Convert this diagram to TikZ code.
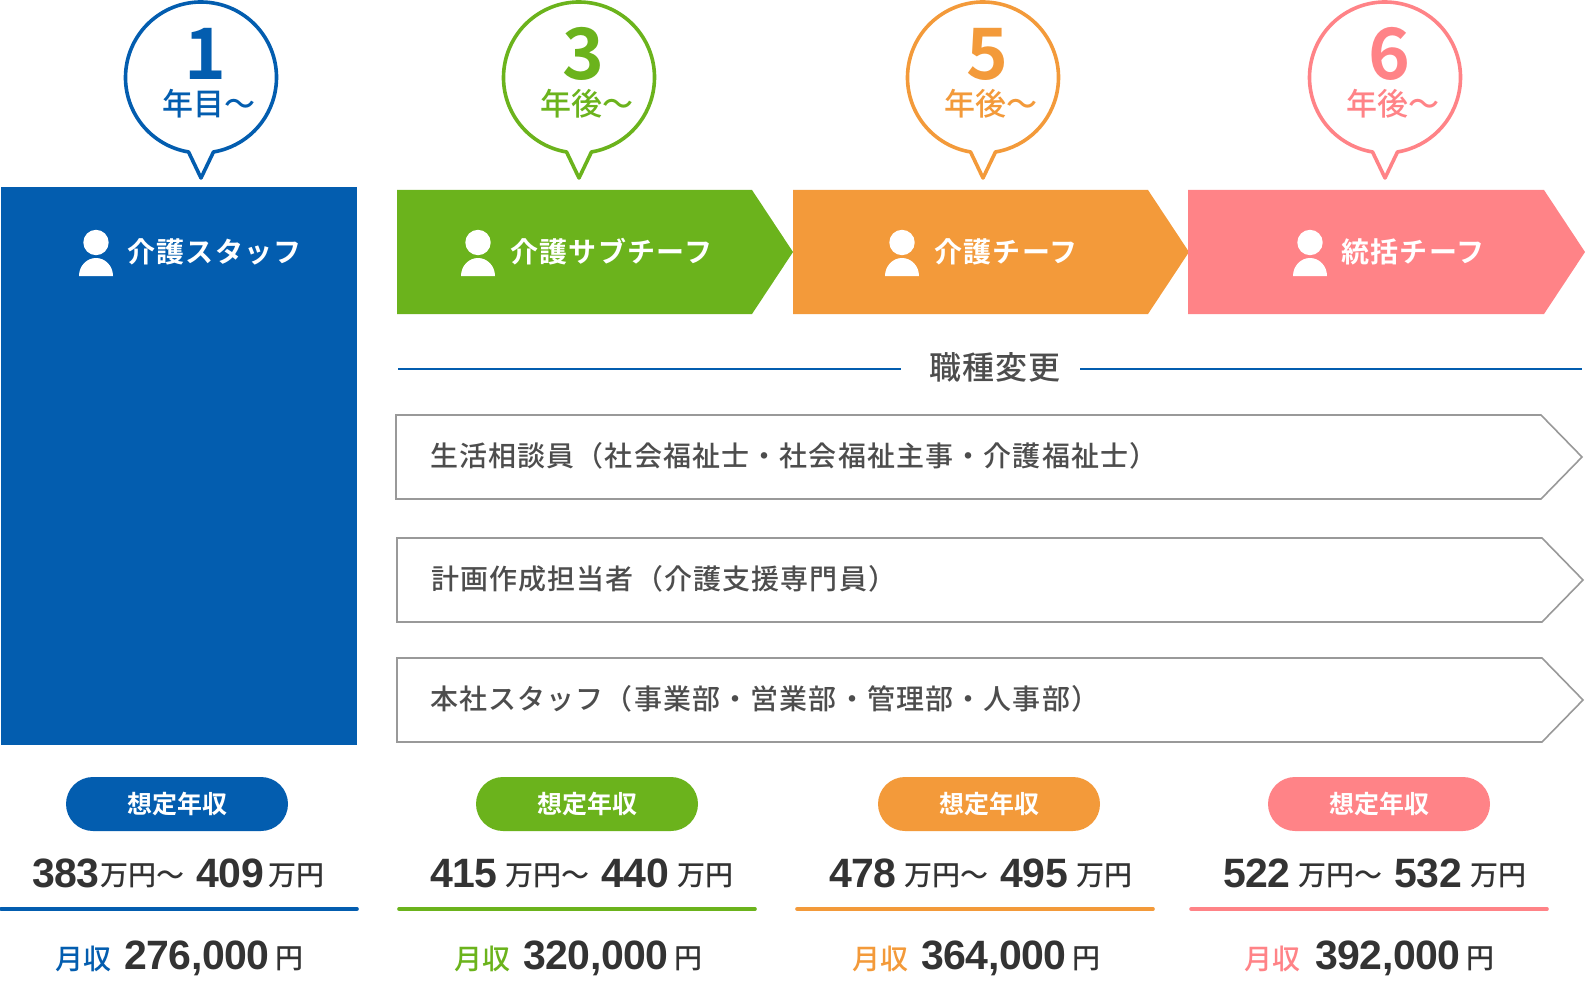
\documentclass[tikz,border=0pt]{standalone}
\usepackage{fontspec}
\setmainfont{Liberation Sans}
\newfontfamily\jpb{Noto Sans CJK JP Bold}
\newfontfamily\jpm{Noto Sans CJK JP Medium}[LetterSpace=4.1]
\newfontfamily\jpn{Noto Sans CJK JP Bold}[LetterSpace=4.8]
\newfontfamily\jpw{Noto Sans CJK JP Medium}
\definecolor{cblue}{HTML}{035DAF}
\definecolor{cgreen}{HTML}{6BB31C}
\definecolor{corange}{HTML}{F39A3A}
\definecolor{cpink}{HTML}{FF8387}
\definecolor{cink}{HTML}{333333}
\definecolor{csub}{HTML}{4D4D4D}
\definecolor{cgrey}{HTML}{999999}
\newcommand\fsz[1]{\fontsize{#1}{#1}\selectfont}
\newcommand\digs[1]{{\bfseries\fsz{41}\addfontfeature{LetterSpace=-1}#1}}
\newcommand\unit[1]{\raisebox{1.5pt}{\jpw\fsz{28}#1}}
\tikzset{
  lab/.style={inner sep=0,outer sep=0,anchor=base west},
  labc/.style={inner sep=0,outer sep=0,anchor=base},
  sublabel/.style={lab,text=csub,font=\jpm\fsz{28}},
  rolelabel/.style={lab,text=white,font=\jpn\fsz{28}},
  chevron/.style={draw=cgrey,line width=1.6pt,fill=white,line join=miter},
  pillbox/.style={inner sep=0,outer sep=0,minimum width=222pt,minimum height=54pt,rounded corners=27pt,text=white,font=\jpb\fsz{25}},
  barline/.style={line width=3.6pt,line cap=round},
}
\newcommand\bubblemark[6]{% id cx colour numx yearx num
  \draw[#3,line width=3.6pt,fill=white,line join=round]
    ([shift={(99.5:75.5)}]#2,77.5) arc[start angle=99.5,end angle=440.5,radius=75.5]
    -- (#2,178) -- cycle;
  \node[labc,text=#3,font=\jpb\fsz{71}] (num#1) at (#4,79.5) {#6};
  \node[labc,text=#3,font=\jpw\fsz{31}] (year#1) at (#5,116) {\ifnum#6=1 年目～\else 年後～\fi};
}
\newcommand\personmark[2]{% cx colour
  \fill[#2] (#1,242.5) circle[radius=12.7];
  \fill[#2] (#1-17,276) arc[start angle=180,end angle=360,x radius=17,y radius=18] -- cycle;
}
\newcommand\salary[9]{% id colour x1 text mon gap pillx monx barx
  \node[pillbox,fill=#2] (pill#1) at (#7,804) {想定年収};
  \node[lab,text=cink] (sal#1) at (#3,887) {#4};
  \draw[barline,#2] (#9+1,909) -- (#9+357,909);
  \node[lab,text=cink] (mon#1) at (#8,969.5) {{\jpw\fsz{28}\textcolor{#2}{月\kern1pt 収}}\hspace{#6pt}\digs{#5}\hspace{6pt}\unit{円}};
}
\begin{document}
\begin{tikzpicture}[x=1pt,y=-1pt]
\useasboundingbox (0,0) rectangle (1585,987);
% bubbles
\bubblemark{a}{201}{cblue}{205}{208.5}{1}
\bubblemark{b}{579}{cgreen}{583}{586.5}{3}
\bubblemark{c}{983}{corange}{987}{991}{5}
\bubblemark{d}{1385}{cpink}{1389}{1392.5}{6}
% column and arrows
\fill[cblue] (1,187) rectangle (357,745);
\fill[cgreen] (397,190) -- (752,190) -- (793,252) -- (752,314) -- (397,314) -- cycle;
\fill[corange] (793,190) -- (1148,190) -- (1189,252) -- (1148,314) -- (793,314) -- cycle;
\fill[cpink] (1188,190) -- (1544,190) -- (1585,252) -- (1544,314) -- (1188,314) -- cycle;
\personmark{96}{white}
\personmark{478}{white}
\personmark{902}{white}
\personmark{1310}{white}
\node[rolelabel] (ra) at (127,262) {介護スタッフ};
\node[rolelabel] (rb) at (510,262) {介護サブチーフ};
\node[rolelabel] (rc) at (934,262) {介護チーフ};
\node[rolelabel] (rd) at (1341,262) {統括チーフ};
% section rule
\node[labc,text=csub,font=\jpw\fsz{32}\addfontfeature{LetterSpace=3}] (sect) at (995,379) {職種変更};
\coordinate (la) at (398,369); \coordinate (lb) at (901,369);
\coordinate (lc) at (1080,369); \coordinate (ld) at (1582,369);
\draw[cblue,line width=2pt] (la) -- (lb);
\draw[cblue,line width=2pt] (lc) -- (ld);
% outlined arrows
\draw[chevron] (396,415) -- (1541,415) -- (1582,457) -- (1541,499) -- (396,499) -- cycle;
\draw[chevron] (397,538) -- (1542,538) -- (1583,580) -- (1542,622) -- (397,622) -- cycle;
\draw[chevron] (397,658) -- (1542,658) -- (1583,700) -- (1542,742) -- (397,742) -- cycle;
\node[sublabel] (sa) at (430,466) {生活相談員（社会福祉士・社会福祉主事・介護福祉士）};
\node[sublabel] (sb) at (431,589) {計画作成担当者（介護支援専門員）};
\node[sublabel] (sc) at (430,709) {本社スタッフ（事業部・営業部・管理部・人事部）};
% salaries
\salary{a}{cblue}{32}{\digs{383}\hspace{1pt}\unit{万円～}\hspace{12pt}\digs{409}\hspace{4pt}\unit{万円}}{276,000}{12}{177}{55}{0}
\salary{b}{cgreen}{430}{\digs{415}\hspace{8pt}\unit{万円～}\hspace{12pt}\digs{440}\hspace{8pt}\unit{万円}}{320,000}{12}{587}{454}{398}
\salary{c}{corange}{829}{\digs{478}\hspace{8pt}\unit{万円～}\hspace{12pt}\digs{495}\hspace{8pt}\unit{万円}}{364,000}{12}{989}{852}{796}
\salary{d}{cpink}{1223}{\digs{522}\hspace{8pt}\unit{万円～}\hspace{12pt}\digs{532}\hspace{8pt}\unit{万円}}{392,000}{14}{1379}{1244}{1190}
\end{tikzpicture}
\end{document}
